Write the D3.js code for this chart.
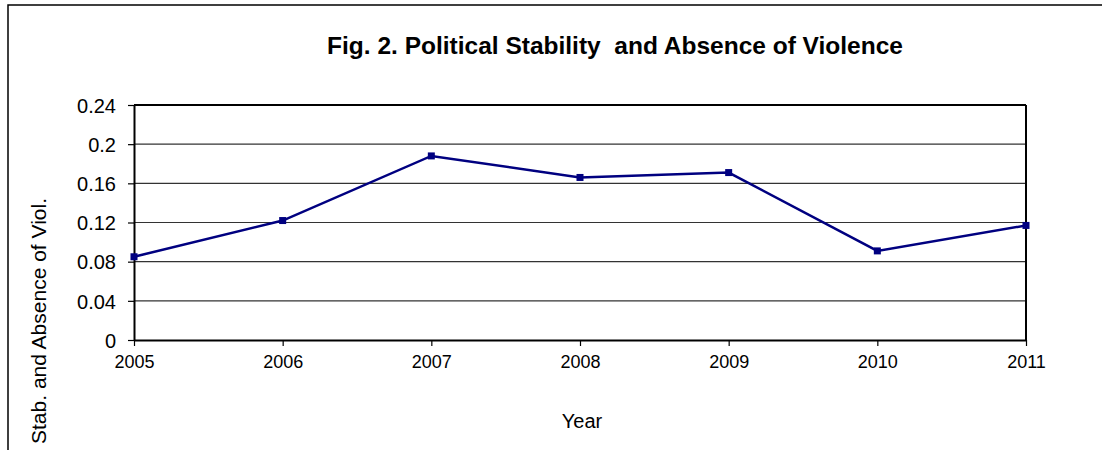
<!DOCTYPE html>
<html>
<head>
<meta charset="utf-8">
<script src="https://cdn.jsdelivr.net/npm/d3@7"></script>
<style>
  html, body { margin: 0; padding: 0; background: #fff; }
  svg { display: block; }
  text { font-family: "Liberation Sans", Arial, sans-serif; fill: #000; }
</style>
</head>
<body>
<svg id="chart" width="1102" height="450"></svg>
<script>
const years = ["2005", "2006", "2007", "2008", "2009", "2010", "2011"];
const values = [0.085, 0.122, 0.188, 0.166, 0.171, 0.091, 0.117];
const yTicks = [0, 0.04, 0.08, 0.12, 0.16, 0.2, 0.24];
const yTickLabels = ["0", "0.04", "0.08", "0.12", "0.16", "0.2", "0.24"];
const titleText = "Fig. 2. Political Stability  and Absence of Violence";
const xTitle = "Year";
const yTitle = "Stab. and Absence of Viol.";

const svg = d3.select("#chart");
const W = 1102, H = 450;
const plot = { left: 134, top: 105, right: 1026, bottom: 340 };

// outer frame
svg.append("rect")
  .attr("x", 8).attr("y", 5)
  .attr("width", W + 20).attr("height", H + 20)
  .attr("fill", "#fff").attr("stroke", "#000").attr("stroke-width", 1.5);

const x = d3.scalePoint().domain(years).range([plot.left, plot.right]);
const y = d3.scaleLinear().domain([0, 0.24]).range([plot.bottom, plot.top]);

// gridlines
svg.append("g")
  .selectAll("line")
  .data(yTicks.filter(d => d > 0 && d < 0.24))
  .join("line")
  .attr("x1", plot.left).attr("x2", plot.right)
  .attr("y1", d => y(d)).attr("y2", d => y(d))
  .attr("stroke", "#333").attr("stroke-width", 1.2);

// plot frame top and right
svg.append("line")
  .attr("x1", plot.left).attr("x2", plot.right)
  .attr("y1", y(0.24)).attr("y2", y(0.24))
  .attr("stroke", "#000").attr("stroke-width", 2);
svg.append("line")
  .attr("x1", plot.right).attr("x2", plot.right)
  .attr("y1", plot.top).attr("y2", plot.bottom)
  .attr("stroke", "#000").attr("stroke-width", 2);

// y axis
const yAxis = d3.axisLeft(y)
  .tickValues(yTicks)
  .tickFormat((d, i) => yTickLabels[i])
  .tickSize(6).tickPadding(12).tickSizeOuter(0);
const gy = svg.append("g").attr("transform", `translate(${plot.left},0)`).call(yAxis);
gy.select(".domain").attr("stroke", "#000").attr("stroke-width", 2);
gy.selectAll(".tick line").attr("stroke", "#000").attr("stroke-width", 1.2);
gy.selectAll(".tick text")
  .attr("font-family", "Liberation Sans, Arial, sans-serif")
  .attr("font-size", 20).attr("fill", "#111").attr("dy", "0.36em");

// x axis
const xAxis = d3.axisBottom(x).tickSize(6).tickPadding(9).tickSizeOuter(0);
const gx = svg.append("g").attr("transform", `translate(0,${plot.bottom})`).call(xAxis);
gx.select(".domain").attr("stroke", "#000").attr("stroke-width", 2);
gx.selectAll(".tick line").attr("stroke", "#000").attr("stroke-width", 1.2);
gx.selectAll(".tick text")
  .attr("font-family", "Liberation Sans, Arial, sans-serif")
  .attr("font-size", 18).attr("fill", "#111");

// line
const line = d3.line().x((d, i) => x(years[i])).y(d => y(d));
svg.append("path")
  .datum(values)
  .attr("d", line)
  .attr("fill", "none")
  .attr("stroke", "#000080")
  .attr("stroke-width", 2.5);

// markers
svg.append("g")
  .selectAll("rect")
  .data(values)
  .join("rect")
  .attr("x", (d, i) => x(years[i]) - 3.5)
  .attr("y", d => y(d) - 3.5)
  .attr("width", 7).attr("height", 7)
  .attr("fill", "#000080");

// title
svg.append("text")
  .attr("x", 615).attr("y", 54)
  .attr("text-anchor", "middle")
  .attr("font-size", 24.5).attr("font-weight", "bold")
  .style("white-space", "pre")
  .text(titleText);

// x title
svg.append("text")
  .attr("x", 582).attr("y", 428)
  .attr("text-anchor", "middle")
  .attr("font-size", 20).attr("fill", "#111")
  .text(xTitle);

// y title
svg.append("text")
  .attr("transform", "translate(46,321) rotate(-90)")
  .attr("text-anchor", "middle")
  .attr("font-size", 21).attr("fill", "#111")
  .text(yTitle);
</script>
</body>
</html>
